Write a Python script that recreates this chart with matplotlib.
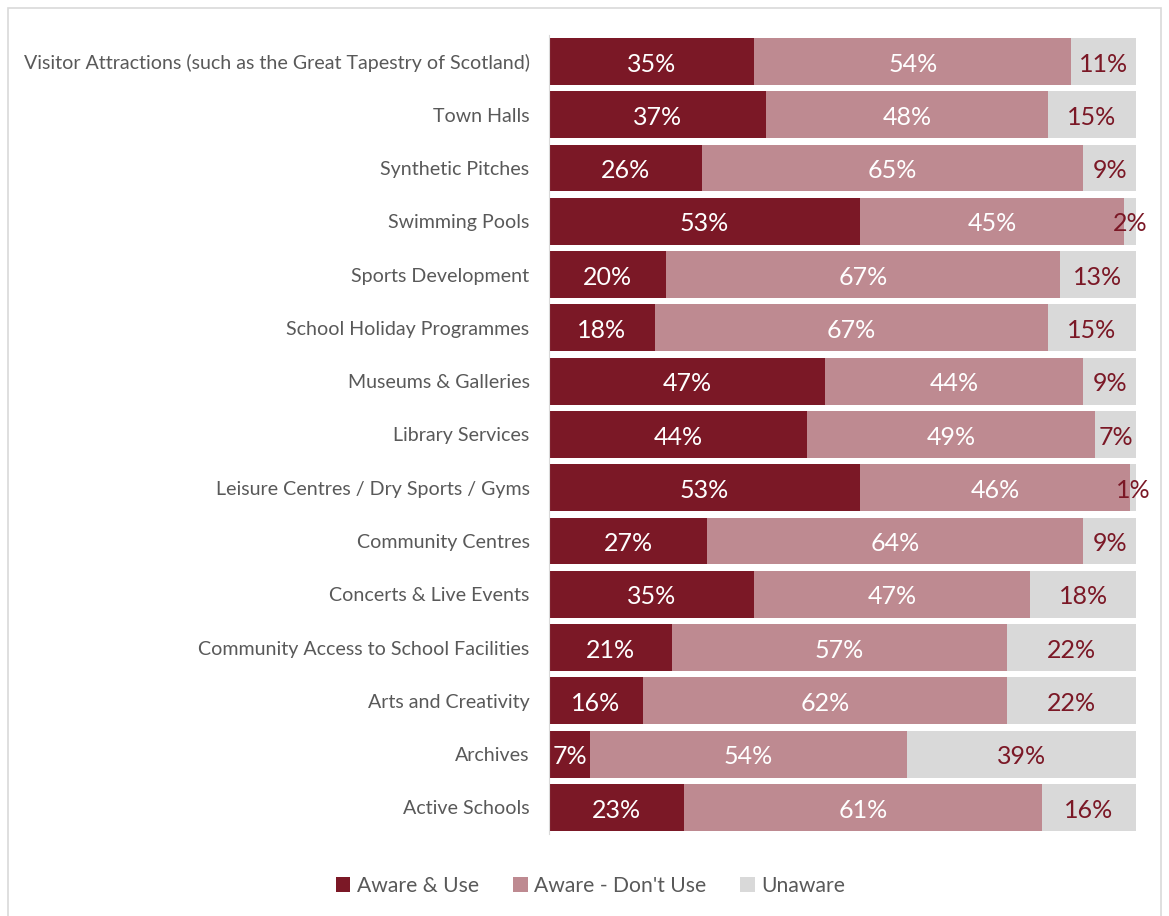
import matplotlib.pyplot as plt
from matplotlib.patches import Rectangle

plt.rcParams['font.family'] = ['Lato', 'DejaVu Sans']

categories = [
    'Visitor Attractions (such as the Great Tapestry of Scotland)',
    'Town Halls',
    'Synthetic Pitches',
    'Swimming Pools',
    'Sports Development',
    'School Holiday Programmes',
    'Museums & Galleries',
    'Library Services',
    'Leisure Centres / Dry Sports / Gyms',
    'Community Centres',
    'Concerts & Live Events',
    'Community Access to School Facilities',
    'Arts and Creativity',
    'Archives',
    'Active Schools',
]
aware_use = [35, 37, 26, 53, 20, 18, 47, 44, 53, 27, 35, 21, 16, 7, 23]
aware_dont_use = [54, 48, 65, 45, 67, 67, 44, 49, 46, 64, 47, 57, 62, 54, 61]
unaware = [11, 15, 9, 2, 13, 15, 9, 7, 1, 9, 18, 22, 22, 39, 16]

series_names = ['Aware & Use', "Aware - Don't Use", 'Unaware']
colors = ['#7B1826', '#BE8A91', '#D9D9D9']
text_colors = ['white', 'white', '#7B1826']

fig = plt.figure(figsize=(11.69, 9.16), dpi=100)
ax = fig.add_axes([0.4696, 0.0895, 0.5022, 0.8725])

# outer frame
fig.patches.append(Rectangle((0.007, -0.01), 0.986, 1.001, transform=fig.transFigure,
                             fill=False, edgecolor='#D9D9D9', linewidth=1.2))

y = list(range(len(categories)))
left = [0] * len(categories)
for vals, name, col, tcol in zip([aware_use, aware_dont_use, unaware], series_names, colors, text_colors):
    ax.barh(y, vals, left=left, height=0.88, color=col, label=name)
    for yi, l, v in zip(y, left, vals):
        ax.text(l + v / 2, yi + 0.05, f'{v}%', ha='center', va='center', color=tcol, fontsize=18)
    left = [a + b for a, b in zip(left, vals)]

ax.set_xlim(0, 100)
ax.set_ylim(len(categories) - 0.5, -0.5)
ax.set_yticks(y)
ax.set_yticklabels(categories, fontsize=14.1, color='#595959')
ax.tick_params(axis='y', length=0, pad=14)
ax.set_xticks([])
for s in ['top', 'right', 'bottom']:
    ax.spines[s].set_visible(False)
ax.spines['left'].set_color('#D9D9D9')

handles, labels = ax.get_legend_handles_labels()
fig.legend(handles, labels, loc='center', bbox_to_anchor=(0.505, 0.033), ncol=3,
           frameon=False, fontsize=15.2, handlelength=0.7, handleheight=0.7,
           handletextpad=0.3, columnspacing=1.6, labelcolor='#595959')

fig.savefig('out.png', dpi=100)
